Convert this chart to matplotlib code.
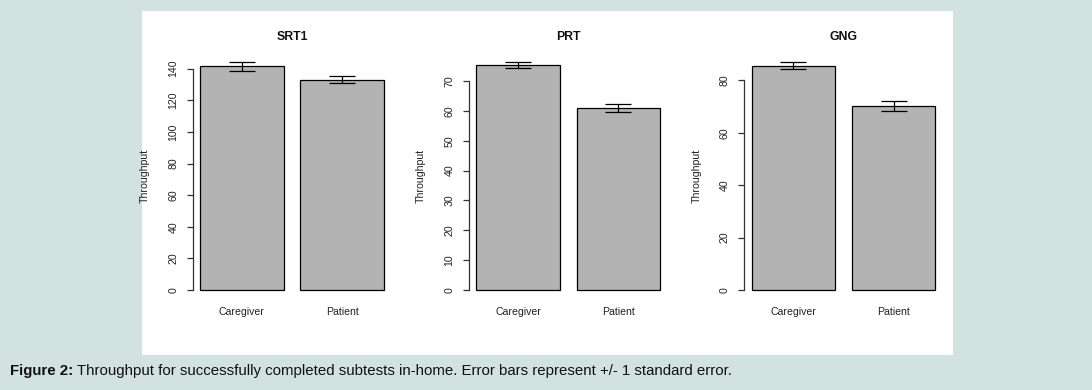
import matplotlib
matplotlib.use("Agg")
import matplotlib.pyplot as plt
from matplotlib.patches import Rectangle
from matplotlib.ticker import MultipleLocator

# ---- data ----
groups = ["Caregiver", "Patient"]
titles = ["SRT1", "PRT", "GNG"]
means_srt1 = [141.5, 133.1]
se_srt1 = [2.7, 2.3]
means_prt = [75.4, 61.1]
se_prt = [1.0, 1.4]
means_gng = [85.6, 70.3]
se_gng = [1.4, 1.85]
tick_steps = [20, 10, 20]
caption_bold = "Figure 2:"
caption_rest = " Throughput for successfully completed subtests in-home. Error bars represent +/- 1 standard error."

W, H = 1092, 390
fig = plt.figure(figsize=(W / 100, H / 100), dpi=100)
fig.patch.set_facecolor("#d2e2e1")
plt.rcParams["font.family"] = ["Liberation Sans", "DejaVu Sans"]

# white panel
fig.patches.append(Rectangle((142 / W, 1 - 355 / H), (953 - 142) / W, (355 - 11) / H,
                             transform=fig.transFigure, facecolor="white",
                             edgecolor="none", zorder=-5))

panels = [(means_srt1, se_srt1), (means_prt, se_prt), (means_gng, se_gng)]
ax_lefts = [192.7, 469.0, 744.3]
ax_w = 198.4
ax_top, ax_bot = 53.0, 299.0
centers = [0.7, 1.9]

for i, ((m, s), title) in enumerate(zip(panels, titles)):
    ax = fig.add_axes([ax_lefts[i] / W, 1 - ax_bot / H, ax_w / W, (ax_bot - ax_top) / H])
    ax.set_facecolor("none")
    ax.set_zorder(1)
    ax.bar(centers, m, width=1.0, color="#b3b3b3", edgecolor="black", linewidth=0.9, zorder=2)
    ax.errorbar(centers, m, yerr=s, fmt="none", ecolor="black", elinewidth=0.9,
                capsize=9.5, capthick=0.9, zorder=3)
    T = max(mi + si for mi, si in zip(m, s))
    ax.set_ylim(-0.04 * T, 1.04 * T)
    ax.set_xlim(0.2 - 0.088, 2.4 + 0.088)
    step = tick_steps[i]
    ax.yaxis.set_major_locator(MultipleLocator(step))
    top_tick = int((1.04 * T) // step) * step
    for sp in ["top", "right", "bottom"]:
        ax.spines[sp].set_visible(False)
    ax.spines["left"].set_bounds(0, top_tick)
    ax.spines["left"].set_color("#333333")
    ax.spines["left"].set_linewidth(0.9)
    ax.tick_params(axis="y", length=4.3, width=0.9, color="#333333", pad=6,
                   labelsize=7.6, labelcolor="#222222")
    for lab in ax.get_yticklabels():
        lab.set_rotation(90)
        lab.set_va("center")
    ax.set_xticks(centers)
    ax.set_xticklabels(groups)
    ax.tick_params(axis="x", length=0, pad=6, labelsize=7.6, labelcolor="#222222")
    ax.set_ylabel("Throughput", fontsize=7.6, color="#222222")
    ax.yaxis.set_label_coords(-43 / ax_w, 0.5)
    ax.text(0.5, 1 + 16 / (ax_bot - ax_top), title, transform=ax.transAxes,
            ha="center", va="center", fontsize=8.8, fontweight="bold", color="#111111")

# caption
fig.canvas.draw()
r = fig.canvas.get_renderer()
t1 = fig.text(10 / W, 1 - 371 / H, caption_bold, fontsize=10.8, fontweight="bold",
              va="center", ha="left", color="#111111")
bb = t1.get_window_extent(renderer=r)
fig.text(bb.x1 / W, 1 - 371 / H, caption_rest, fontsize=10.8, va="center", ha="left",
         color="#111111")

fig.savefig("out.png", dpi=100, facecolor=fig.get_facecolor())
